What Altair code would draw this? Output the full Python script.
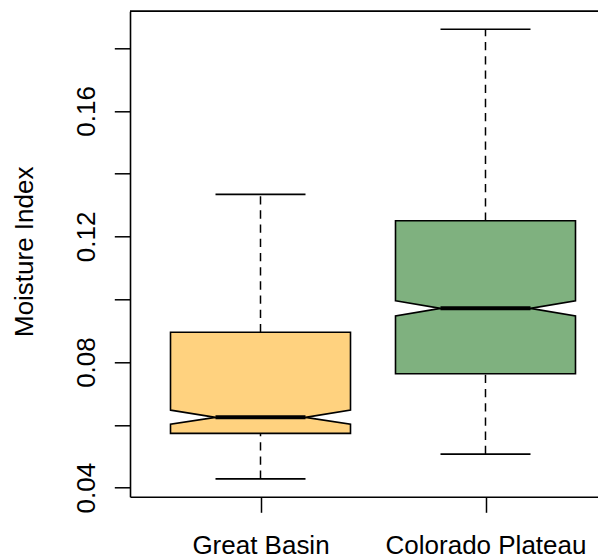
import altair as alt
import pandas as pd

# ---- data ----
groups = ["Great Basin", "Colorado Plateau"]
positions = [1, 2]
whisker_low = [0.0428, 0.0507]
q1 = [0.0573, 0.0763]
notch_low = [0.0602, 0.0947]
median = [0.0624, 0.0971]
notch_high = [0.0647, 0.0995]
q3 = [0.0895, 0.1250]
whisker_high = [0.1334, 0.1860]
fill_colors = ["#FFD27F", "#7FB17F"]

y_ticks = [0.04, 0.06, 0.08, 0.10, 0.12, 0.14, 0.16, 0.18]
y_labelled = [0.04, 0.08, 0.12, 0.16]

# ---- layout constants ----
BOX_HALF = 0.4
NOTCH_HALF = 0.2
W = 468
H = 485.4
X_DOMAIN = [0.42, 0.42 + W / 225.0]
Y_DOMAIN = [0.03713, 0.1917]
FONT = "Liberation Sans"
FS = 26

# ---- build tables: each notched box = lower and upper piece (ranged areas) ----
area_rows = []
for g, p, a, nl, m, nu, b in zip(groups, positions, q1, notch_low, median, notch_high, q3):
    xs = [p - BOX_HALF, p - NOTCH_HALF, p + NOTCH_HALF, p + BOX_HALF]
    low_top = [nl, m, m, nl]
    up_bot = [nu, m, m, nu]
    for xv, t in zip(xs, low_top):
        area_rows.append({"group": g, "piece": g + "-lo", "x": xv, "y": a, "y2": t})
    for xv, bt in zip(xs, up_bot):
        area_rows.append({"group": g, "piece": g + "-up", "x": xv, "y": bt, "y2": b})
area_df = pd.DataFrame(area_rows)

stat_df = pd.DataFrame({
    "group": groups,
    "pos": positions,
    "lo": whisker_low,
    "q1": q1,
    "med": median,
    "q3": q3,
    "hi": whisker_high,
})
stat_df["nl"] = stat_df["pos"] - NOTCH_HALF
stat_df["nr"] = stat_df["pos"] + NOTCH_HALF

xscale = alt.Scale(domain=X_DOMAIN, nice=False, zero=False)
yscale = alt.Scale(domain=Y_DOMAIN, nice=False, zero=False)

label_expr = " : ".join(
    [f"datum.value == {p} ? '{g}'" for p, g in zip(positions, groups)] + ["''"]
)
ylab_expr = " || ".join([f"abs(datum.value - {v}) < 1e-6" for v in y_labelled])
ylab_expr = f"({ylab_expr}) ? format(datum.value, '.2f') : ''"

x_axis = alt.Axis(
    values=positions, labelExpr=label_expr, title=None, grid=False,
    tickSize=15.6, tickColor="black", tickWidth=1.5,
    domainColor="black", domainWidth=1.6,
    labelFont=FONT, labelFontSize=FS, labelColor="black", labelLimit=0,
    labelBaseline="alphabetic", labelAlign="center", labelPadding=41,
)
y_axis = alt.Axis(
    values=y_ticks, labelExpr=ylab_expr, title="Moisture Index", grid=False,
    tickSize=15.7, tickColor="black", tickWidth=1.5,
    domainColor="black", domainWidth=1.6,
    labelFont=FONT, labelFontSize=FS, labelColor="black", labelLimit=0,
    labelAngle=270, labelAlign="center", labelBaseline="alphabetic",
    labelPadding=20.3,
    titleFont=FONT, titleFontSize=FS, titleColor="black", titleFontWeight="normal",
    titleAngle=270, titleAlign="center", titleBaseline="alphabetic",
    titleX=-98, titleY=240,
)

base_stat = alt.Chart(stat_df)

whisker_up = base_stat.mark_rule(color="black", strokeWidth=1.5, strokeDash=[8.3, 5.9]).encode(
    x=alt.X("pos:Q", scale=xscale, axis=x_axis),
    y=alt.Y("q3:Q", scale=yscale, axis=y_axis),
    y2="hi:Q",
)
whisker_dn = base_stat.mark_rule(color="black", strokeWidth=1.5, strokeDash=[8.3, 5.9]).encode(
    x=alt.X("pos:Q", scale=xscale),
    y=alt.Y("lo:Q", scale=yscale),
    y2="q1:Q",
)

boxes = alt.Chart(area_df).mark_area(
    stroke="black", strokeWidth=1.6, opacity=1, strokeJoin="miter"
).encode(
    x=alt.X("x:Q", scale=xscale),
    y=alt.Y("y:Q", scale=yscale),
    y2="y2:Q",
    color=alt.Color("group:N", scale=alt.Scale(domain=groups, range=fill_colors), legend=None),
    detail="piece:N",
)

med_line = base_stat.mark_rule(color="black", strokeWidth=4).encode(
    x=alt.X("nl:Q", scale=xscale), x2="nr:Q",
    y=alt.Y("med:Q", scale=yscale),
)
cap_hi = base_stat.mark_rule(color="black", strokeWidth=1.6).encode(
    x=alt.X("nl:Q", scale=xscale), x2="nr:Q",
    y=alt.Y("hi:Q", scale=yscale),
)
cap_lo = base_stat.mark_rule(color="black", strokeWidth=1.6).encode(
    x=alt.X("nl:Q", scale=xscale), x2="nr:Q",
    y=alt.Y("lo:Q", scale=yscale),
)
top_frame = alt.Chart(stat_df).mark_rule(color="black", strokeWidth=1.6).encode(
    x=alt.value(0), x2=alt.value(W), y=alt.value(0)
)

chart = alt.layer(
    whisker_up, whisker_dn, boxes, med_line, cap_hi, cap_lo, top_frame
).properties(
    width=W, height=H,
    autosize=alt.AutoSizeParams(type="none"),
    padding={"left": 122, "top": 3.3, "right": 0, "bottom": 60},
    background="white",
).configure_view(stroke=None)

chart.save("out.html", embed_options={"renderer": "svg", "actions": False})
